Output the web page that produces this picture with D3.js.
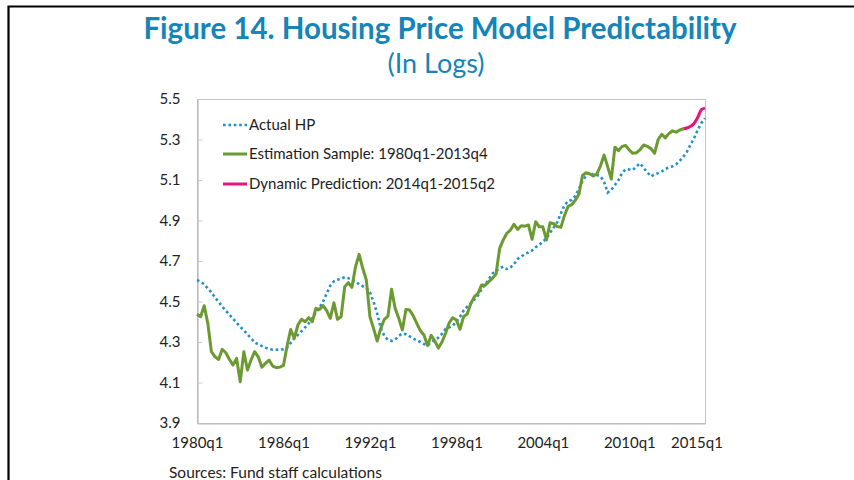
<!DOCTYPE html>
<html>
<head>
<meta charset="utf-8">
<script src="https://cdn.jsdelivr.net/npm/d3@7"></script>
<style>
  body { margin: 0; background: #fff; }
  svg { display: block; font-family: Lato, "Open Sans", sans-serif; }
</style>
</head>
<body>
<script>
// quarters 1980q1 .. 2015q2
let startYear = 1980, endYear = 2015, lastQuarter = 2;
let quarters = [];
for (let y = startYear; y <= endYear; y++) {
  for (let q = 1; q <= 4; q++) {
    if (y === endYear && q > lastQuarter) break;
    quarters.push(y + "q" + q);
  }
}

let tickLabels = ["1980q1", "1986q1", "1992q1", "1998q1", "2004q1", "2010q1", "2015q1"];
let yTicks = [3.9, 4.1, 4.3, 4.5, 4.7, 4.9, 5.1, 5.3, 5.5];

// Actual HP, 1980q1 - 2015q2
let actualHP = [
  4.606, 4.598, 4.585, 4.565,
  4.545, 4.520, 4.498, 4.475,
  4.455, 4.435, 4.415, 4.395,
  4.375, 4.358, 4.338, 4.318,
  4.298, 4.288, 4.280, 4.272,
  4.265, 4.262, 4.262, 4.263,
  4.264, 4.272, 4.295, 4.318,
  4.335, 4.353, 4.372, 4.392,
  4.418, 4.445, 4.470, 4.500,
  4.540, 4.578, 4.600, 4.608,
  4.612, 4.620, 4.615, 4.606,
  4.598, 4.585, 4.575, 4.568,
  4.545, 4.500, 4.440, 4.370,
  4.330, 4.310, 4.306, 4.312,
  4.330, 4.342, 4.338, 4.328,
  4.318, 4.308, 4.300, 4.290,
  4.284, 4.298, 4.310, 4.322,
  4.340, 4.365, 4.372, 4.380,
  4.400, 4.425, 4.455, 4.475,
  4.490, 4.510, 4.530, 4.560,
  4.585, 4.610, 4.638, 4.652,
  4.664, 4.672, 4.660, 4.668,
  4.684, 4.710, 4.722, 4.735,
  4.742, 4.752, 4.768, 4.780,
  4.795, 4.812, 4.840, 4.865,
  4.892, 4.935, 4.976, 4.995,
  5.002, 5.022, 5.055, 5.095,
  5.122, 5.138, 5.125, 5.124,
  5.118, 5.090, 5.038, 5.052,
  5.075, 5.100, 5.135, 5.153,
  5.152, 5.150, 5.168, 5.182,
  5.158, 5.138, 5.118, 5.128,
  5.134, 5.142, 5.155, 5.162,
  5.168, 5.178, 5.195, 5.215,
  5.240, 5.275, 5.308, 5.348,
  5.382, 5.405
];

// Estimation sample, 1980q1 - 2013q4
let estimation = [
  4.437, 4.425, 4.479, 4.392,
  4.252, 4.227, 4.214, 4.264,
  4.247, 4.214, 4.186, 4.219,
  4.104, 4.252, 4.162, 4.211,
  4.252, 4.227, 4.175, 4.195,
  4.211, 4.181, 4.173, 4.176,
  4.184, 4.280, 4.362, 4.318,
  4.384, 4.412, 4.400, 4.420,
  4.400, 4.466, 4.461, 4.480,
  4.455, 4.417, 4.494, 4.412,
  4.425, 4.573, 4.593, 4.570,
  4.672, 4.733, 4.664, 4.606,
  4.425, 4.367, 4.305, 4.367,
  4.412, 4.428, 4.560, 4.466,
  4.417, 4.359, 4.461, 4.458,
  4.430, 4.392, 4.356, 4.335,
  4.282, 4.333, 4.305, 4.270,
  4.300, 4.343, 4.395, 4.420,
  4.409, 4.362, 4.425, 4.438,
  4.490, 4.524, 4.540, 4.582,
  4.580, 4.598, 4.614, 4.636,
  4.762, 4.804, 4.837, 4.853,
  4.881, 4.856, 4.874, 4.872,
  4.878, 4.807, 4.894, 4.869,
  4.869, 4.804, 4.889, 4.884,
  4.870, 4.866, 4.925, 4.970,
  4.978, 5.000, 5.030, 5.122,
  5.136, 5.130, 5.120, 5.130,
  5.170, 5.223, 5.165, 5.105,
  5.262, 5.245, 5.266, 5.270,
  5.248, 5.232, 5.235, 5.250,
  5.273, 5.266, 5.255, 5.232,
  5.300, 5.325, 5.308, 5.330,
  5.343, 5.336, 5.347, 5.353
];

// Dynamic prediction, 2013q4 (join point) - 2015q2
let prediction = [5.353, 5.357, 5.365, 5.380, 5.410, 5.447, 5.455];
let predictionStart = quarters.indexOf("2013q4");

let legendItems = [
  {label: "Actual HP", key: "actual"},
  {label: "Estimation Sample: 1980q1-2013q4", key: "est"},
  {label: "Dynamic Prediction: 2014q1-2015q2", key: "pred"}
];

let colors = {actual: "#2290c8", est: "#6b9a31", pred: "#e8147c"};

init();

function init() {
  let width = 854, height = 480,
      margin = {l: 197, r: 149, t: 99, b: 57};

  let svg = d3.select("body")
              .append("svg")
              .attr("width", width)
              .attr("height", height);

  // outer frame
  svg.append("path")
     .attr("d", "M8.5,480 V6.5 H854")
     .attr("fill", "none")
     .attr("stroke", "#000")
     .attr("stroke-width", 2.2);

  svg.append("text")
     .attr("x", 440)
     .attr("y", 39)
     .attr("text-anchor", "middle")
     .attr("fill", "#1584b8")
     .attr("font-weight", "bold")
     .attr("font-size", 29.5)
     .text("Figure 14. Housing Price Model Predictability");

  svg.append("text")
     .attr("x", 436)
     .attr("y", 73)
     .attr("text-anchor", "middle")
     .attr("fill", "#1584b8")
     .attr("font-size", 27)
     .text("(In Logs)");

  let x = d3.scalePoint()
            .domain(quarters)
            .range([margin.l, width - margin.r]);

  let y = d3.scaleLinear()
            .domain([3.9, 5.5])
            .range([height - margin.b, margin.t]);

  let g = svg.append("g");

  // plot border
  g.append("rect")
   .attr("x", margin.l + 0.5)
   .attr("y", margin.t + 0.5)
   .attr("width", width - margin.l - margin.r)
   .attr("height", height - margin.t - margin.b)
   .attr("fill", "none")
   .attr("stroke", "#c4c4c4");

  let yAxis = g.append("g")
               .attr("transform", "translate(" + (margin.l + 0.5) + ",0)")
               .call(d3.axisLeft(y)
                       .tickValues(yTicks)
                       .tickFormat(d3.format(".1f"))
                       .tickSizeInner(-5)
                       .tickSizeOuter(0)
                       .tickPadding(17));
  yAxis.select(".domain").attr("stroke", "#b0b0b0");
  yAxis.selectAll(".tick line").attr("stroke", "#c8c8c8");
  yAxis.selectAll("text")
       .attr("font-family", "Lato, sans-serif")
       .attr("font-size", 15)
       .attr("fill", "#222");

  let xAxis = g.append("g")
               .attr("transform", "translate(0," + (height - margin.b + 0.5) + ")")
               .call(d3.axisBottom(x)
                       .tickValues(tickLabels)
                       .tickSize(0)
                       .tickPadding(14));
  xAxis.select(".domain").attr("stroke", "#b8b8b8");
  xAxis.selectAll("text")
       .attr("font-family", "Lato, sans-serif")
       .attr("font-size", 15)
       .attr("fill", "#222")
       .attr("dx", (d) => d === "2015q1" ? -5 : 0);

  let line = d3.line()
               .x((d) => x(d.q))
               .y((d) => y(d.v));

  let actualData = actualHP.map((v, i) => ({q: quarters[i], v: v}));
  let estData = estimation.map((v, i) => ({q: quarters[i], v: v}));
  let predData = prediction.map((v, i) => ({q: quarters[predictionStart + i], v: v}));

  g.append("path")
   .datum(actualData)
   .attr("d", line)
   .attr("fill", "none")
   .attr("stroke", colors.actual)
   .attr("stroke-width", 2.6)
   .attr("stroke-dasharray", "2.6,2.8");

  g.append("path")
   .datum(estData)
   .attr("d", line)
   .attr("fill", "none")
   .attr("stroke", colors.est)
   .attr("stroke-width", 3)
   .attr("stroke-linejoin", "round");

  g.append("path")
   .datum(predData)
   .attr("d", line.curve(d3.curveMonotoneX))
   .attr("fill", "none")
   .attr("stroke", colors.pred)
   .attr("stroke-width", 3);

  // legend
  let legend = svg.append("g")
                  .selectAll("g")
                  .data(legendItems)
                  .enter()
                  .append("g")
                  .attr("transform", (d, i) => "translate(223," + [125, 154, 184][i] + ")");

  legend.append("line")
        .attr("x1", 0)
        .attr("x2", 24)
        .attr("stroke", (d) => colors[d.key])
        .attr("stroke-width", (d) => d.key === "actual" ? 2.6 : 3)
        .attr("stroke-dasharray", (d) => d.key === "actual" ? "2.6,2.8" : null);

  legend.append("text")
        .attr("x", 26)
        .attr("dy", "0.35em")
        .attr("font-size", 15)
        .attr("fill", "#222")
        .text((d) => d.label);

  svg.append("text")
     .attr("x", 169)
     .attr("y", 478)
     .attr("font-size", 15.5)
     .attr("fill", "#222")
     .text("Sources: Fund staff calculations");
}
</script>
</body>
</html>
